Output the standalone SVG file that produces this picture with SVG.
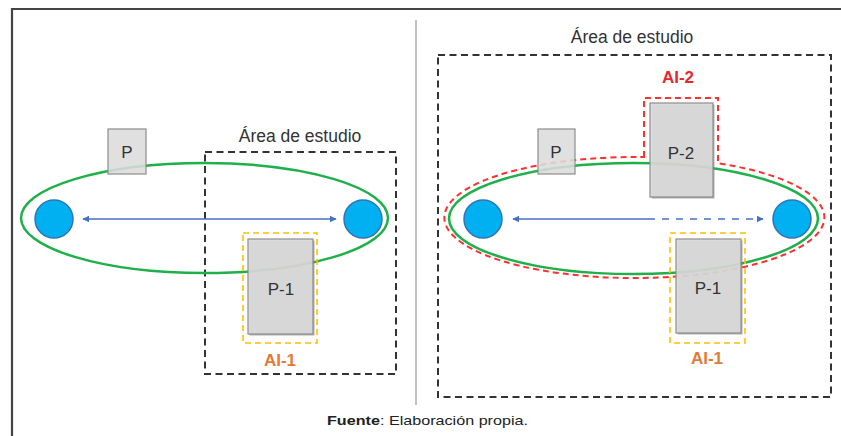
<svg xmlns="http://www.w3.org/2000/svg" width="841" height="436" viewBox="0 0 841 436">
<defs>
<style>
.lbl{font-family:"Liberation Sans",Arial,sans-serif;font-size:17.5px;fill:#333;text-anchor:middle}
.pl{font-family:"Liberation Sans",Arial,sans-serif;font-size:17px;fill:#333;text-anchor:middle}
.box{fill:#DCDCDC;fill-opacity:0.88;stroke:#8C8C8C;stroke-width:1.2}
.shadow{fill:#6F6F6F;opacity:0.55}
.area{fill:none;stroke:#333;stroke-width:2;stroke-dasharray:7 4.5}
.ai1{fill:none;stroke:#FFC000;stroke-width:1.6;stroke-dasharray:6 4}
.ai2{fill:none;stroke:#FF3030;stroke-width:2;stroke-dasharray:6 4}
.route{fill:none;stroke:#1FAF4B;stroke-width:2.5}
.stop{fill:#00B0F0;stroke:#2E75B6;stroke-width:1.5}
.arrow{stroke:#4472C4;stroke-width:1.6;fill:none}
.t-ai1{font-family:"Liberation Sans",Arial,sans-serif;font-size:17px;fill:#E07B39;text-anchor:middle;font-weight:bold}
.t-ai2{font-family:"Liberation Sans",Arial,sans-serif;font-size:17px;fill:#E8262E;text-anchor:middle;font-weight:bold}
</style>
<marker id="ah" viewBox="0 0 10 10" refX="9" refY="5" markerWidth="4.5" markerHeight="4.5" orient="auto-start-reverse">
<path d="M0,0 L10,5 L0,10 z" fill="#4472C4"/>
</marker>
</defs>
<rect x="0" y="0" width="841" height="436" fill="#fff"/>
<!-- frame -->
<path d="M12,436 L12,9 L841,9" fill="none" stroke="#444" stroke-width="2.2"/>
<line x1="416" y1="20" x2="416" y2="405" stroke="#999" stroke-width="1.2"/>

<!-- LEFT PANEL -->
<g id="left-area">
<rect class="area" x="205" y="152" width="191" height="222"/>
<text class="lbl" x="300" y="142">Área de estudio</text>
</g>
<g id="left-route">
<ellipse class="route" cx="204.5" cy="218" rx="183.5" ry="55"/>
</g>
<g id="left-P">
<rect class="box" x="108" y="129" width="38" height="45"/>
<text class="pl" x="127" y="158">P</text>
</g>
<g id="left-AI1">
<rect class="ai1" x="243" y="233" width="74" height="110"/>
<text class="t-ai1" x="280" y="366">AI-1</text>
</g>
<g id="left-P1">
<rect class="shadow" x="249.5" y="240.5" width="65" height="95"/>
<rect class="box" x="248" y="239" width="65" height="95"/>
<text class="pl" x="281" y="295">P-1</text>
</g>
<g id="left-stop-a"><circle class="stop" cx="54" cy="219" r="19"/></g>
<g id="left-stop-b"><circle class="stop" cx="363" cy="219" r="19"/></g>

<!-- RIGHT PANEL -->
<g id="right-area">
<rect class="area" x="438" y="55" width="393" height="342"/>
<text class="lbl" x="632" y="43">Área de estudio</text>
</g>
<g id="right-AI2">
<path class="ai2" d="M644,157.1 L644,98 L718,98 L718,163.2 A190,60.5 0 1 1 644,157.1 Z"/>
<text class="t-ai2" x="678" y="83">AI-2</text>
</g>
<g id="right-route">
<ellipse class="route" cx="633.5" cy="218.5" rx="184.5" ry="55.5"/>
</g>
<g id="right-P">
<rect class="box" x="538" y="129" width="37" height="45"/>
<text class="pl" x="556" y="158">P</text>
</g>
<g id="right-P2">
<rect class="shadow" x="651.5" y="104.5" width="63" height="94"/>
<rect class="box" x="650" y="103" width="63" height="94"/>
<text class="pl" x="681" y="159">P-2</text>
</g>
<g id="right-AI1">
<rect class="ai1" x="670" y="233" width="75" height="110"/>
<text class="t-ai1" x="707" y="364">AI-1</text>
</g>
<g id="right-P1">
<rect class="shadow" x="677.5" y="240.5" width="65" height="94"/>
<rect class="box" x="676" y="239" width="65" height="94"/>
<text class="pl" x="708" y="294">P-1</text>
</g>
<g id="right-stop-a"><circle class="stop" cx="483" cy="219" r="19"/></g>
<g id="right-stop-b"><circle class="stop" cx="792" cy="219" r="19"/></g>

<!-- connectors -->
<g id="connectors">
<line class="arrow" x1="83" y1="219" x2="336" y2="219" marker-start="url(#ah)" marker-end="url(#ah)"/>
<line class="arrow" x1="513" y1="219" x2="648" y2="219" marker-start="url(#ah)"/>
<line class="arrow" x1="648" y1="219" x2="763" y2="219" stroke-dasharray="7 7" marker-end="url(#ah)"/>
</g>

<text x="327" y="425" textLength="201" lengthAdjust="spacingAndGlyphs" font-family="'Liberation Sans',Arial,sans-serif" font-size="13" fill="#222"><tspan font-weight="bold">Fuente</tspan>: Elaboración propia.</text>
</svg>
